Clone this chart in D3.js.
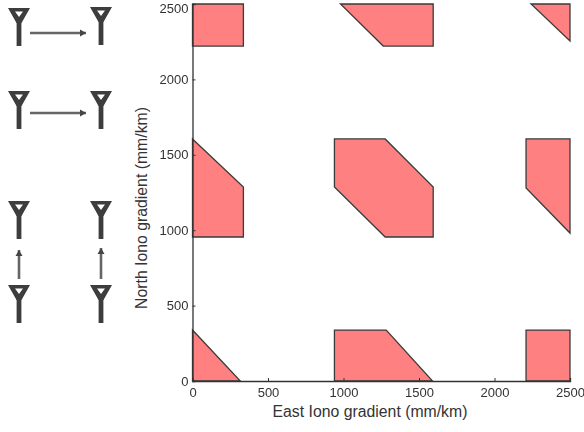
<!DOCTYPE html>
<html>
<head>
<meta charset="utf-8">
<script src="https://cdn.jsdelivr.net/npm/d3@7"></script>
<style>
  html, body { margin: 0; padding: 0; background: #fff; }
  text { font-family: "Liberation Sans", Arial, sans-serif; fill: #333; }
</style>
</head>
<body>
<div id="chart"></div>
<script>
// coverage regions, [east, north] in mm/km
var regionTopLeft = [[0, 2221], [337, 2221], [337, 2500], [0, 2500]];
var regionTopMid = [[980, 2500], [1594, 2500], [1594, 2221], [1263, 2221]];
var regionTopRight = [[2242, 2500], [2500, 2500], [2500, 2255]];
var regionMidLeft = [[0, 1605], [337, 1286], [337, 955], [0, 955]];
var regionCentre = [[940, 1605], [1276, 1605], [1594, 1286], [1594, 955], [1276, 955], [940, 1286]];
var regionMidRight = [[2209, 1605], [2500, 1605], [2500, 981], [2209, 1280]];
var regionBottomLeft = [[0, 338], [317, 0], [0, 0]];
var regionBottomMid = [[940, 338], [1283, 338], [1590, 0], [940, 0]];
var regionBottomRight = [[2209, 338], [2500, 338], [2500, 0], [2209, 0]];
var regions = [regionTopLeft, regionTopMid, regionTopRight, regionMidLeft, regionCentre,
    regionMidRight, regionBottomLeft, regionBottomMid, regionBottomRight];

var xTicks = [0, 500, 1000, 1500, 2000, 2500];
var yTicks = [0, 500, 1000, 1500, 2000, 2500];

var xTitle = 'East Iono gradient (mm/km)';
var yTitle = 'North Iono gradient (mm/km)';

// antenna tops, and the arrows between them
var antennas = [[19, 8], [101, 7], [19, 91], [101, 91], [19, 201], [101, 201], [19, 285], [101, 285]];
var arrows = [[30, 33, 86, 33], [30, 113, 86, 113], [19, 279, 19, 250], [101, 279, 101, 248]];

var width = 584, height = 432;
var plotLeft = 192.5, plotRight = 570, plotTop = 4, plotBottom = 381;

var svg = d3.select('#chart')
    .append('svg')
    .attr('width', width)
    .attr('height', height)
    .style('display', 'block');

var defs = svg.append('defs');
defs.append('filter').attr('id', 'soft')
    .append('feGaussianBlur').attr('stdDeviation', 0.7);
defs.append('filter').attr('id', 'softer')
    .attr('filterUnits', 'userSpaceOnUse')
    .attr('x', -600).attr('y', -600).attr('width', 1800).attr('height', 1800)
    .append('feGaussianBlur').attr('stdDeviation', 0.35);

var x = d3.scaleLinear().domain([0, 2500]).range([plotLeft, plotRight]);
var y = d3.scaleLinear().domain([0, 2500]).range([plotBottom, plotTop]);

var line = d3.line()
    .x(function(d) { return x(d[0]); })
    .y(function(d) { return y(d[1]); })
    .curve(d3.curveLinearClosed);

//regions
svg.append('g').attr('filter', 'url(#softer)')
    .selectAll('path')
    .data(regions)
    .enter()
    .append('path')
    .attr('d', line)
    .attr('fill', '#ff8080')
    .attr('stroke', '#3a3a3a')
    .attr('stroke-width', 1.3);

//axes
var xAxis = svg.append('g')
    .attr('transform', 'translate(0,' + plotBottom + ')')
    .call(d3.axisBottom(x).tickValues(xTicks).tickFormat(d3.format('d')).tickSize(-3).tickPadding(7));
var yAxis = svg.append('g')
    .attr('transform', 'translate(' + plotLeft + ',0)')
    .call(d3.axisLeft(y).tickValues(yTicks).tickFormat(d3.format('d')).tickSize(-3).tickPadding(4));

[xAxis, yAxis].forEach(function(a) {
    a.attr('filter', 'url(#softer)');
    a.selectAll('path').attr('stroke', '#333').attr('stroke-width', 1.3);
    a.selectAll('line').attr('stroke', '#333');
    a.selectAll('text').style('font-size', '13px').style('font-family', '"Liberation Sans", Arial, sans-serif').attr('fill', '#222');
});

// top label sits lower than its tick so it stays on the page
yAxis.selectAll('text')
    .filter(function(d) { return d === 2500; })
    .attr('y', 4);

svg.append('text')
    .attr('x', 370)
    .attr('y', 417)
    .attr('text-anchor', 'middle')
    .style('font-size', '15.8px')
    .text(xTitle);

svg.append('text')
    .attr('transform', 'translate(147,208) rotate(-90)')
    .attr('text-anchor', 'middle')
    .style('font-size', '15.8px')
    .text(yTitle);

//antennas and arrows
var icons = svg.append('g').attr('filter', 'url(#soft)');

var ant = icons.selectAll('g')
    .data(antennas)
    .enter()
    .append('g')
    .attr('transform', function(d) { return 'translate(' + d[0] + ',' + d[1] + ')'; });

ant.append('path')
    .attr('d', 'M-11,0H11L2.5,15H-2.5Z M-4,3.5L0,9L4,3.5Z')
    .attr('fill', '#3c3c3c')
    .attr('fill-rule', 'evenodd');
ant.append('rect')
    .attr('x', -2.4)
    .attr('y', 14)
    .attr('width', 4.8)
    .attr('height', 24)
    .attr('fill', '#3c3c3c');

icons.selectAll('line')
    .data(arrows)
    .enter()
    .append('line')
    .attr('x1', function(d) { return d[0]; })
    .attr('y1', function(d) { return d[1]; })
    .attr('x2', function(d) { return d[2]; })
    .attr('y2', function(d) { return d[3]; })
    .attr('stroke', '#666')
    .attr('stroke-width', 2.6);

icons.selectAll('path.head')
    .data(arrows)
    .enter()
    .append('path')
    .attr('class', 'head')
    .attr('d', 'M0,0L-6,-3.5V3.5Z')
    .attr('fill', '#444')
    .attr('transform', function(d) {
        var angle = Math.atan2(d[3] - d[1], d[2] - d[0]) * 180 / Math.PI;
        return 'translate(' + d[2] + ',' + d[3] + ') rotate(' + angle + ')';
    });
</script>
</body>
</html>
